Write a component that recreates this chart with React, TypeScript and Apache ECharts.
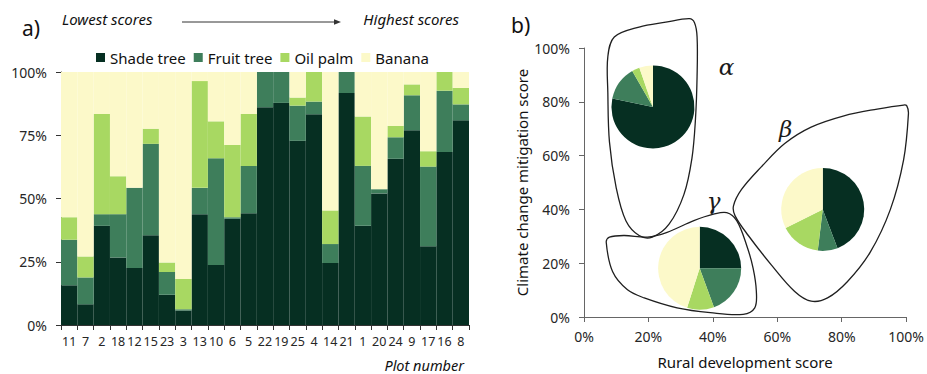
import React, { useEffect, useRef } from 'react';
import * as echarts from 'echarts';

// ---------- Panel a) data ----------
const plots = ['11', '7', '2', '18', '12', '15', '23', '3', '13', '10', '6', '5', '22', '19', '25', '4', '14', '21', '1', '20', '24', '9', '17', '16', '8'];
const shadeTree = [15.7, 8.2, 39.2, 26.7, 22.5, 35.5, 12, 5.7, 43.8, 23.7, 42, 44.2, 86.1, 87.8, 72.8, 83.3, 24.5, 91.7, 39.2, 52, 65.7, 77, 31.1, 68.4, 80.9];
const fruitTree = [18, 10.6, 4.6, 17.1, 31.7, 36.1, 8.9, 0.5, 10.4, 42.2, 0.6, 18.6, 13.9, 12.2, 13.9, 5, 7.5, 8.3, 23.7, 1.7, 8.5, 13.8, 31.5, 24.2, 6.3];
const oilPalm = [8.9, 8.3, 39.6, 15, 0, 6, 3.8, 12, 42.2, 14.6, 28.5, 20.6, 0, 0, 3.2, 11.7, 13.3, 0, 19.5, 0, 4.5, 4.3, 6.1, 7.4, 6.5];
const banana = [57.4, 72.9, 16.6, 41.2, 45.8, 22.4, 75.3, 81.8, 3.6, 19.5, 28.9, 16.6, 0, 0, 10.1, 0, 54.7, 0, 17.6, 46.3, 21.3, 4.9, 31.3, 0, 6.3];
const seriesNames = ['Shade tree', 'Fruit tree', 'Oil palm', 'Banana'];
const seriesColors = ['#062f22', '#3e7e5b', '#a8d862', '#fcf9c9'];

// ---------- Panel b) data ----------
const groupNames = ['α', 'β', 'γ'];
// pie centres: [rural development %, climate change mitigation %]
const groupCentres = [[21.4, 78.1], [74.1, 40.0], [35.9, 18.1]];
// pie shares: shade, fruit, oil palm, banana
const groupAlpha = [78.2, 13.5, 3.0, 5.3];
const groupBeta = [44.2, 7.7, 15.7, 32.4];
const groupGamma = [25.0, 19.4, 10.5, 45.1];
const groupShares = [groupAlpha, groupBeta, groupGamma];
// Greek label positions (data coords)
const groupLabelPos = [[44.2, 93.1], [62.6, 69.9], [40.2, 43.1]];
// hand-drawn outlines (data coords)
const outlineAlpha = [[9.4, 104.1], [17.1, 107.8], [25.4, 109.6], [32.7, 110.9], [34.3, 109.4], [35.1, 104.1], [35.1, 89.5], [34.6, 73.6], [33.5, 59.0], [31.0, 45.5], [26.4, 34.5], [21.2, 29.7], [17.1, 30.3], [13.0, 35.8], [10.0, 48.0], [7.9, 65.1], [7.4, 83.4], [7.4, 96.8]];
const outlineBeta = [[100.2, 78.5], [100.7, 75.5], [99.2, 58.4], [95.1, 40.0], [88.9, 24.2], [81.8, 13.2], [75.6, 7.1], [70.5, 5.9], [65.4, 9.5], [58.2, 19.3], [51.0, 30.3], [46.9, 37.6], [46.4, 41.3], [48.9, 47.4], [55.1, 55.9], [62.3, 64.5], [70.5, 70.6], [80.7, 74.8], [91.0, 77.3], [99.2, 78.8]];
const outlineGamma = [[6.9, 27.8], [8.9, 16.8], [13.5, 10.1], [18.7, 7.1], [28.9, 3.4], [39.2, 1.6], [49.4, 1.0], [53.0, 3.4], [53.5, 9.5], [52.5, 18.1], [50.5, 26.6], [47.4, 35.8], [44.3, 38.8], [40.2, 38.2], [34.1, 35.8], [25.8, 31.5], [19.7, 29.7], [12.5, 30.3], [7.9, 29.7]];
const outlines = [outlineAlpha, outlineBeta, outlineGamma];

const FONT = 'Noto Sans';
const TXT = '#262626';

export default function App() {
  const ref = useRef<HTMLDivElement>(null);
  useEffect(() => {
    const chart = echarts.init(ref.current!, null, { renderer: 'svg' });
    const barData = [shadeTree, fruitTree, oilPalm, banana];
    const barSeries = seriesNames.map((n, i) => ({
      name: n,
      type: 'bar',
      stack: 'a',
      xAxisIndex: 0,
      yAxisIndex: 0,
      barCategoryGap: '0%',
      data: barData[i],
      itemStyle: { color: seriesColors[i] },
      emphasis: { disabled: true },
    }));
    const customSeries = {
      type: 'custom',
      xAxisIndex: 1,
      yAxisIndex: 1,
      clip: false,
      silent: true,
      z: 1,
      data: groupLabelPos,
      renderItem: (params: any, api: any) => {
        const i = params.dataIndex;
        const pts = outlines[i].map((p) => api.coord(p));
        const lp = api.coord([api.value(0), api.value(1)]);
        return {
          type: 'group',
          children: [
            { type: 'polygon', shape: { points: pts, smooth: 0.35 }, style: { fill: 'none', stroke: '#1f1f1f', lineWidth: 1.3 } },
            { type: 'text', x: lp[0], y: lp[1], style: { text: groupNames[i], fontSize: 23, fontStyle: 'italic', fontFamily: 'DejaVu Serif', fill: '#1a1a1a', align: 'center', verticalAlign: 'middle' } },
          ],
        };
      },
    };
    const axisLineDark = { show: true, lineStyle: { color: '#333', width: 1 } };
    const axisLineGray = { show: true, lineStyle: { color: '#666', width: 1 } };
    const base: any = {
      animation: false,
      textStyle: { fontFamily: FONT },
      legend: {
        data: seriesNames,
        left: 91,
        top: 45,
        icon: 'rect',
        itemWidth: 9,
        itemHeight: 9,
        itemGap: 8,
        textStyle: { fontSize: 15, color: '#111', fontFamily: FONT },
        selectedMode: false,
      },
      grid: [
        { left: 61, top: 72, width: 408, height: 253 },
        { left: 584, top: 48, width: 325, height: 273 },
      ],
      xAxis: [
        {
          type: 'category',
          gridIndex: 0,
          data: plots,
          axisLine: axisLineDark,
          axisTick: { show: true, length: 5, lineStyle: { color: '#333' } },
          axisLabel: { interval: 0, fontSize: 12.5, color: TXT, margin: 10, fontFamily: FONT },
        },
        {
          type: 'value',
          gridIndex: 1,
          min: 0,
          max: 100,
          interval: 20,
          axisLine: axisLineGray,
          axisTick: { show: true, length: 5, lineStyle: { color: '#666' } },
          splitLine: { show: false },
          axisLabel: { formatter: '{value}%', fontSize: 14, color: TXT, margin: 12, fontFamily: FONT },
          name: 'Rural development score',
          nameLocation: 'middle',
          nameGap: 37,
          nameTextStyle: { fontSize: 15, color: '#111', fontFamily: FONT },
        },
      ],
      yAxis: [
        {
          type: 'value',
          gridIndex: 0,
          min: 0,
          max: 100,
          interval: 25,
          axisLine: axisLineDark,
          axisTick: { show: true, length: 5, lineStyle: { color: '#333' } },
          splitLine: { show: false },
          axisLabel: { formatter: '{value}%', fontSize: 14, color: TXT, margin: 14, fontFamily: FONT },
        },
        {
          type: 'value',
          gridIndex: 1,
          min: 0,
          max: 100,
          interval: 20,
          axisLine: axisLineGray,
          axisTick: { show: true, length: 5, lineStyle: { color: '#666' } },
          splitLine: { show: false },
          axisLabel: { formatter: '{value}%', fontSize: 14, color: TXT, margin: 14, fontFamily: FONT },
          name: 'Climate change mitigation score',
          nameLocation: 'middle',
          nameGap: 55,
          nameRotate: 90,
          nameTextStyle: { fontSize: 15, color: '#111', fontFamily: FONT },
        },
      ],
      graphic: [
        { type: 'text', x: 22, y: 28, style: { text: 'a)', fontSize: 21, fill: '#111', fontFamily: FONT, verticalAlign: 'middle' } },
        { type: 'text', x: 511, y: 25, style: { text: 'b)', fontSize: 21, fill: '#111', fontFamily: FONT, verticalAlign: 'middle' } },
        { type: 'text', x: 62, y: 19, style: { text: 'Lowest scores', fontSize: 15, fontStyle: 'italic', fill: '#111', fontFamily: FONT, verticalAlign: 'middle' } },
        { type: 'text', x: 459, y: 19, style: { text: 'Highest scores', fontSize: 15, fontStyle: 'italic', fill: '#111', fontFamily: FONT, align: 'right', verticalAlign: 'middle' } },
        { type: 'line', shape: { x1: 182, y1: 22, x2: 336, y2: 22 }, style: { stroke: '#333', lineWidth: 1 } },
        { type: 'polygon', shape: { points: [[334, 19.3], [341, 22], [334, 24.7]] }, style: { fill: '#333' } },
        { type: 'text', x: 464, y: 365, style: { text: 'Plot number', fontSize: 14.5, fontStyle: 'italic', fill: '#111', fontFamily: FONT, align: 'right', verticalAlign: 'middle' } },
      ],
      series: [...barSeries, customSeries],
    };
    chart.setOption(base);
    const pieSeries = groupShares.map((shares, g) => ({
      type: 'pie',
      center: chart.convertToPixel({ xAxisIndex: 1, yAxisIndex: 1 } as any, groupCentres[g]),
      radius: 41.5,
      startAngle: 90,
      clockwise: true,
      silent: true,
      z: 3,
      label: { show: false },
      labelLine: { show: false },
      itemStyle: { borderWidth: 0 },
      emphasis: { disabled: true },
      data: shares.map((v, i) => ({ value: v, name: seriesNames[i], itemStyle: { color: seriesColors[i] } })),
    }));
    chart.setOption({ ...base, series: [...barSeries, customSeries, ...pieSeries] });
    return () => chart.dispose();
  }, []);
  return <div ref={ref} style={{ position: 'absolute', left: 0, top: 0, width: 927, height: 374 }} />;
}
